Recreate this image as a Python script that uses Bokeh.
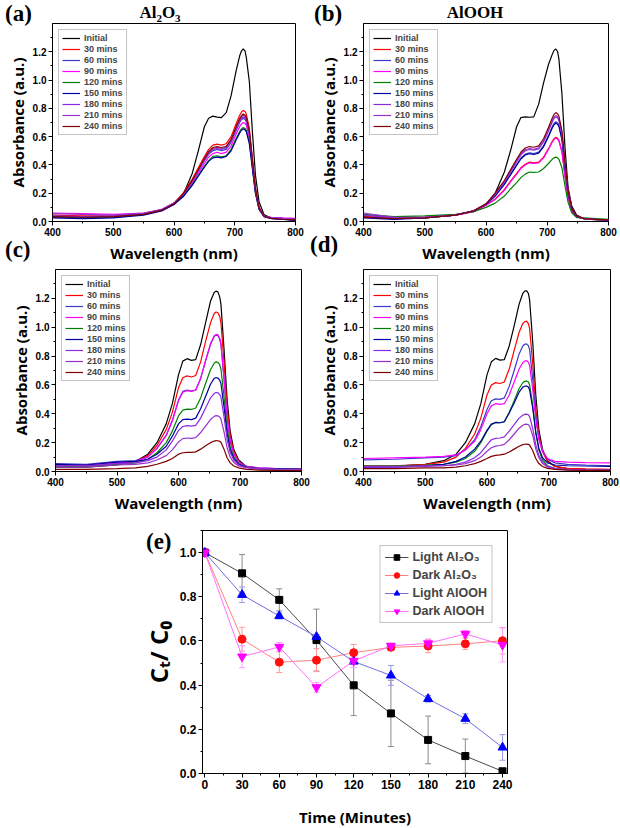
from bokeh.plotting import figure
from bokeh.layouts import column, row
from bokeh.models import (Legend, LegendItem, SingleIntervalTicker, PrintfTickFormatter,
                          Whisker, TeeHead, ColumnDataSource, Range1d, Div)
from bokeh.embed import file_html
from bokeh.resources import INLINE

# ---------------- data ----------------
SERIES_NAMES = ["Initial", "30 mins", "60 mins", "90 mins", "120 mins",
                "150 mins", "180 mins", "210 mins", "240 mins"]
SERIES_COLORS = ["#000000", "#ff0000", "#3a3ac8", "#ff00ff", "#008000",
                 "#0000a0", "#8a2be2", "#9932cc", "#800000"]

WL_AB = [400, 450, 500, 550, 580, 600, 615, 630, 640, 650, 657, 664, 671, 678, 686, 694,
         702, 708, 711, 714, 717, 719, 724, 729, 734, 740, 748, 760, 780, 800]

A_INIT = [0.030, 0.025, 0.030, 0.050, 0.080, 0.120, 0.190, 0.340, 0.500, 0.670, 0.730, 0.745, 0.738, 0.735, 0.770,
          0.890, 1.060, 1.170, 1.205, 1.220, 1.205, 1.160, 0.990, 0.640, 0.330, 0.140, 0.050, 0.025, 0.015, 0.010]
A_30 = [0.045, 0.040, 0.040, 0.055, 0.085, 0.130, 0.200, 0.300, 0.380, 0.460, 0.510, 0.540, 0.547, 0.540, 0.550,
        0.600, 0.690, 0.750, 0.773, 0.785, 0.778, 0.760, 0.660, 0.450, 0.240, 0.100, 0.040, 0.025, 0.020, 0.015]
A_60 = [0.030, 0.025, 0.030, 0.050, 0.080, 0.125, 0.190, 0.280, 0.355, 0.430, 0.475, 0.500, 0.510, 0.500, 0.510,
        0.560, 0.640, 0.700, 0.720, 0.730, 0.722, 0.705, 0.615, 0.420, 0.225, 0.095, 0.038, 0.022, 0.016, 0.012]
A_90 = [0.060, 0.055, 0.050, 0.060, 0.085, 0.130, 0.185, 0.270, 0.340, 0.410, 0.455, 0.480, 0.490, 0.480, 0.490,
        0.535, 0.615, 0.670, 0.690, 0.700, 0.693, 0.680, 0.590, 0.400, 0.215, 0.090, 0.037, 0.030, 0.025, 0.022]
A_120 = [0.035, 0.030, 0.035, 0.050, 0.080, 0.125, 0.180, 0.260, 0.325, 0.390, 0.430, 0.460, 0.465, 0.457, 0.465,
         0.510, 0.585, 0.635, 0.655, 0.665, 0.658, 0.645, 0.560, 0.380, 0.205, 0.088, 0.036, 0.022, 0.016, 0.012]
A_150 = [0.025, 0.020, 0.025, 0.045, 0.075, 0.120, 0.175, 0.255, 0.320, 0.385, 0.425, 0.450, 0.455, 0.450, 0.460,
         0.500, 0.575, 0.625, 0.645, 0.655, 0.648, 0.635, 0.550, 0.375, 0.200, 0.085, 0.035, 0.020, 0.014, 0.010]
A_180 = [0.040, 0.035, 0.040, 0.055, 0.085, 0.130, 0.190, 0.285, 0.360, 0.435, 0.480, 0.510, 0.515, 0.510, 0.520,
         0.565, 0.650, 0.707, 0.728, 0.740, 0.732, 0.717, 0.622, 0.425, 0.226, 0.095, 0.038, 0.024, 0.018, 0.014]
A_210 = [0.055, 0.050, 0.045, 0.060, 0.085, 0.130, 0.190, 0.287, 0.363, 0.440, 0.487, 0.516, 0.522, 0.516, 0.525,
         0.573, 0.660, 0.716, 0.738, 0.750, 0.742, 0.726, 0.630, 0.430, 0.230, 0.096, 0.038, 0.028, 0.022, 0.018]
A_240 = [0.035, 0.030, 0.035, 0.050, 0.080, 0.125, 0.195, 0.290, 0.368, 0.445, 0.494, 0.523, 0.530, 0.523, 0.532,
         0.580, 0.668, 0.726, 0.748, 0.760, 0.752, 0.736, 0.640, 0.436, 0.232, 0.097, 0.039, 0.022, 0.016, 0.012]

B_INIT = [0.035, 0.020, 0.025, 0.045, 0.075, 0.120, 0.200, 0.350, 0.500, 0.670, 0.735, 0.740, 0.737, 0.740, 0.830,
          0.980, 1.110, 1.180, 1.210, 1.220, 1.200, 1.150, 0.900, 0.520, 0.240, 0.110, 0.045, 0.020, 0.012, 0.010]
B_30 = [0.040, 0.025, 0.030, 0.045, 0.070, 0.115, 0.160, 0.225, 0.285, 0.340, 0.380, 0.405, 0.420, 0.415, 0.420,
        0.455, 0.515, 0.565, 0.585, 0.595, 0.588, 0.575, 0.495, 0.325, 0.170, 0.075, 0.032, 0.020, 0.015, 0.012]
B_60 = [0.030, 0.020, 0.025, 0.045, 0.075, 0.120, 0.183, 0.266, 0.334, 0.403, 0.449, 0.476, 0.485, 0.481, 0.490,
        0.536, 0.609, 0.669, 0.693, 0.705, 0.697, 0.682, 0.586, 0.385, 0.202, 0.087, 0.037, 0.020, 0.015, 0.012]
B_90 = [0.045, 0.030, 0.030, 0.045, 0.070, 0.115, 0.155, 0.220, 0.280, 0.335, 0.375, 0.400, 0.415, 0.410, 0.415,
        0.450, 0.510, 0.560, 0.580, 0.590, 0.583, 0.570, 0.490, 0.320, 0.168, 0.074, 0.032, 0.020, 0.015, 0.012]
B_120 = [0.050, 0.035, 0.040, 0.050, 0.070, 0.100, 0.130, 0.180, 0.230, 0.275, 0.310, 0.335, 0.350, 0.348, 0.350,
         0.375, 0.410, 0.440, 0.450, 0.455, 0.450, 0.440, 0.380, 0.250, 0.135, 0.062, 0.028, 0.025, 0.020, 0.015]
B_150 = [0.025, 0.015, 0.025, 0.045, 0.075, 0.120, 0.180, 0.262, 0.330, 0.397, 0.442, 0.470, 0.479, 0.474, 0.483,
         0.528, 0.600, 0.659, 0.684, 0.695, 0.687, 0.673, 0.578, 0.379, 0.199, 0.086, 0.036, 0.020, 0.015, 0.012]
B_180 = [0.045, 0.025, 0.030, 0.045, 0.075, 0.125, 0.192, 0.279, 0.351, 0.423, 0.471, 0.500, 0.509, 0.505, 0.514,
         0.562, 0.639, 0.702, 0.728, 0.740, 0.731, 0.716, 0.615, 0.404, 0.211, 0.091, 0.038, 0.020, 0.015, 0.012]
B_210 = [0.060, 0.030, 0.030, 0.045, 0.075, 0.125, 0.195, 0.283, 0.355, 0.430, 0.477, 0.507, 0.516, 0.511, 0.521,
         0.570, 0.648, 0.711, 0.738, 0.750, 0.741, 0.726, 0.623, 0.410, 0.214, 0.093, 0.039, 0.020, 0.015, 0.012]
B_240 = [0.030, 0.020, 0.025, 0.045, 0.075, 0.125, 0.200, 0.290, 0.365, 0.440, 0.490, 0.520, 0.530, 0.525, 0.535,
         0.585, 0.665, 0.730, 0.757, 0.770, 0.761, 0.745, 0.640, 0.420, 0.220, 0.095, 0.040, 0.020, 0.015, 0.012]

WL_CD = [400, 450, 500, 530, 550, 565, 580, 590, 600, 607, 614, 621, 628, 636, 644, 652,
         658, 661, 664, 667, 669, 674, 679, 684, 690, 698, 710, 730, 760, 800]

C_INIT = [0.030, 0.030, 0.045, 0.070, 0.120, 0.200, 0.330, 0.470, 0.670, 0.765, 0.782, 0.770, 0.775, 0.880, 1.030,
          1.180, 1.240, 1.250, 1.245, 1.210, 1.160, 0.850, 0.500, 0.280, 0.150, 0.080, 0.035, 0.020, 0.015, 0.012]
C_30 = [0.040, 0.040, 0.055, 0.070, 0.110, 0.180, 0.290, 0.410, 0.580, 0.650, 0.663, 0.655, 0.665, 0.760, 0.900,
        1.030, 1.095, 1.105, 1.100, 1.075, 1.030, 0.760, 0.440, 0.250, 0.135, 0.070, 0.035, 0.022, 0.018, 0.015]
C_60 = [0.055, 0.050, 0.070, 0.075, 0.100, 0.160, 0.250, 0.355, 0.495, 0.555, 0.565, 0.557, 0.565, 0.645, 0.765,
        0.880, 0.935, 0.945, 0.942, 0.918, 0.880, 0.645, 0.375, 0.210, 0.120, 0.065, 0.035, 0.025, 0.020, 0.018]
C_90 = [0.045, 0.045, 0.060, 0.070, 0.100, 0.160, 0.250, 0.350, 0.490, 0.550, 0.560, 0.555, 0.565, 0.645, 0.770,
        0.885, 0.940, 0.950, 0.947, 0.923, 0.885, 0.650, 0.380, 0.215, 0.120, 0.065, 0.035, 0.025, 0.020, 0.018]
C_120 = [0.035, 0.035, 0.050, 0.060, 0.085, 0.130, 0.200, 0.280, 0.385, 0.425, 0.432, 0.430, 0.440, 0.510, 0.610,
         0.705, 0.750, 0.760, 0.757, 0.740, 0.710, 0.520, 0.300, 0.170, 0.100, 0.055, 0.030, 0.020, 0.018, 0.015]
C_150 = [0.050, 0.045, 0.065, 0.070, 0.085, 0.120, 0.175, 0.245, 0.330, 0.360, 0.363, 0.360, 0.370, 0.435, 0.520,
         0.605, 0.645, 0.651, 0.648, 0.633, 0.610, 0.450, 0.265, 0.150, 0.090, 0.050, 0.030, 0.020, 0.018, 0.015]
C_180 = [0.040, 0.040, 0.055, 0.060, 0.075, 0.100, 0.150, 0.210, 0.285, 0.312, 0.318, 0.315, 0.320, 0.370, 0.440,
         0.510, 0.540, 0.548, 0.546, 0.533, 0.515, 0.380, 0.225, 0.130, 0.080, 0.045, 0.028, 0.020, 0.016, 0.014]
C_210 = [0.030, 0.030, 0.045, 0.050, 0.060, 0.080, 0.110, 0.150, 0.205, 0.228, 0.232, 0.230, 0.235, 0.270, 0.315,
         0.360, 0.382, 0.387, 0.386, 0.378, 0.365, 0.275, 0.165, 0.100, 0.062, 0.038, 0.025, 0.018, 0.015, 0.012]
C_240 = [0.015, 0.015, 0.020, 0.025, 0.035, 0.050, 0.070, 0.090, 0.120, 0.130, 0.133, 0.133, 0.136, 0.155, 0.178,
         0.200, 0.211, 0.214, 0.213, 0.209, 0.203, 0.155, 0.095, 0.060, 0.038, 0.025, 0.015, 0.010, 0.008, 0.007]

D_INIT = [0.030, 0.035, 0.050, 0.075, 0.120, 0.200, 0.330, 0.470, 0.670, 0.760, 0.784, 0.772, 0.775, 0.870, 1.010,
          1.160, 1.235, 1.250, 1.253, 1.235, 1.190, 0.900, 0.530, 0.290, 0.150, 0.075, 0.035, 0.020, 0.015, 0.012]
D_30 = [0.040, 0.040, 0.050, 0.065, 0.100, 0.160, 0.260, 0.370, 0.530, 0.600, 0.616, 0.610, 0.620, 0.710, 0.840,
        0.965, 1.025, 1.038, 1.042, 1.025, 0.990, 0.750, 0.440, 0.250, 0.135, 0.070, 0.035, 0.022, 0.018, 0.015]
D_60 = [0.080, 0.085, 0.095, 0.100, 0.110, 0.150, 0.220, 0.310, 0.430, 0.490, 0.503, 0.500, 0.510, 0.590, 0.700,
        0.815, 0.870, 0.882, 0.885, 0.872, 0.845, 0.640, 0.390, 0.230, 0.140, 0.085, 0.060, 0.050, 0.045, 0.040]
D_90 = [0.090, 0.095, 0.100, 0.105, 0.115, 0.150, 0.210, 0.290, 0.400, 0.455, 0.470, 0.465, 0.470, 0.530, 0.620,
        0.710, 0.755, 0.765, 0.768, 0.757, 0.735, 0.570, 0.360, 0.220, 0.140, 0.090, 0.070, 0.065, 0.062, 0.060]
D_120 = [0.040, 0.040, 0.045, 0.050, 0.065, 0.090, 0.140, 0.200, 0.280, 0.325, 0.340, 0.338, 0.345, 0.410, 0.490,
         0.575, 0.615, 0.625, 0.628, 0.620, 0.600, 0.460, 0.270, 0.150, 0.080, 0.040, 0.020, 0.012, 0.010, 0.010]
D_150 = [0.030, 0.030, 0.040, 0.050, 0.070, 0.100, 0.155, 0.210, 0.285, 0.328, 0.340, 0.338, 0.345, 0.405, 0.475,
         0.550, 0.585, 0.591, 0.593, 0.585, 0.565, 0.440, 0.270, 0.160, 0.095, 0.060, 0.045, 0.040, 0.038, 0.035]
D_180 = [0.030, 0.030, 0.035, 0.040, 0.050, 0.065, 0.095, 0.130, 0.185, 0.220, 0.230, 0.232, 0.240, 0.280, 0.325,
         0.370, 0.390, 0.396, 0.398, 0.393, 0.380, 0.300, 0.185, 0.110, 0.065, 0.035, 0.020, 0.015, 0.012, 0.012]
D_210 = [0.035, 0.035, 0.040, 0.040, 0.045, 0.055, 0.075, 0.100, 0.140, 0.165, 0.176, 0.180, 0.188, 0.220, 0.260,
         0.300, 0.320, 0.326, 0.328, 0.324, 0.315, 0.250, 0.155, 0.095, 0.055, 0.032, 0.020, 0.015, 0.012, 0.012]
D_240 = [0.020, 0.020, 0.025, 0.025, 0.030, 0.040, 0.055, 0.070, 0.090, 0.105, 0.112, 0.115, 0.120, 0.135, 0.155,
         0.175, 0.186, 0.189, 0.190, 0.188, 0.183, 0.145, 0.090, 0.055, 0.035, 0.022, 0.015, 0.010, 0.008, 0.008]

TIME = [0, 30, 60, 90, 120, 150, 180, 210, 240]
LIGHT_AL2O3 = [1.0, 0.906, 0.786, 0.604, 0.399, 0.272, 0.152, 0.079, 0.010]
LIGHT_AL2O3_ERR = [0.0, 0.085, 0.050, 0.140, 0.137, 0.150, 0.108, 0.077, 0.0]
DARK_AL2O3 = [1.0, 0.608, 0.504, 0.513, 0.547, 0.571, 0.577, 0.587, 0.601]
DARK_AL2O3_ERR = [0.0, 0.054, 0.047, 0.052, 0.037, 0.010, 0.030, 0.025, 0.060]
LIGHT_ALOOH = [1.0, 0.809, 0.713, 0.619, 0.507, 0.444, 0.338, 0.248, 0.118]
LIGHT_ALOOH_ERR = [0.0, 0.035, 0.013, 0.010, 0.010, 0.045, 0.015, 0.022, 0.058]
DARK_ALOOH = [1.0, 0.529, 0.573, 0.390, 0.510, 0.578, 0.589, 0.632, 0.582]
DARK_ALOOH_ERR = [0.0, 0.050, 0.020, 0.022, 0.030, 0.010, 0.020, 0.015, 0.077]

# ---------------- styling helpers ----------------
TICK_FONT = "Liberation Sans"
AXIS_FONT = "Open Sans"
SERIF = "Liberation Serif"


def style_axes(p, tick_size, label_size, x_standoff, y_standoff):
    for ax in (p.xaxis[0], p.yaxis[0]):
        ax.major_label_text_font = TICK_FONT
        ax.major_label_text_font_style = "bold"
        ax.major_label_text_font_size = tick_size
        ax.major_label_text_color = "black"
        ax.axis_label_text_font = AXIS_FONT
        ax.axis_label_text_font_style = "bold"
        ax.axis_label_text_font_size = label_size
        ax.axis_label_text_color = "black"
        ax.major_tick_in = 0
        ax.major_tick_out = 4
        ax.minor_tick_in = 0
        ax.minor_tick_out = 2
        ax.major_label_standoff = 2
        ax.axis_line_color = "black"
        ax.major_tick_line_color = "black"
        ax.minor_tick_line_color = "black"
    p.xaxis[0].axis_label_standoff = x_standoff
    p.yaxis[0].axis_label_standoff = y_standoff
    p.xgrid.visible = False
    p.ygrid.visible = False
    p.outline_line_color = "black"
    p.outline_line_width = 1
    p.background_fill_color = "white"
    p.border_fill_color = "white"


def spectra(wl, curves, left, top, fw, fh, right, bottom):
    p = figure(frame_width=fw, frame_height=fh, min_border_left=left, min_border_top=top,
               min_border_right=right, min_border_bottom=bottom,
               x_range=Range1d(400, 800), y_range=Range1d(0, 1.4),
               output_backend="svg", toolbar_location=None, title=None)
    for name, col, ys in zip(SERIES_NAMES, SERIES_COLORS, curves):
        p.line(wl, ys, line_color=col, line_width=1.2, legend_label=name)
    p.xaxis.ticker = SingleIntervalTicker(interval=100, num_minor_ticks=2)
    p.yaxis.ticker = SingleIntervalTicker(interval=0.2, num_minor_ticks=2)
    p.yaxis.formatter = PrintfTickFormatter(format="%.1f")
    p.xaxis.axis_label = "Wavelength (nm)"
    p.yaxis.axis_label = "Absorbance (a.u.)"
    style_axes(p, "10px", "15px", 4, 2)
    lg = p.legend[0]
    lg.location = "top_left"
    lg.margin = 6
    lg.padding = 3
    lg.spacing = 1
    lg.label_text_font = TICK_FONT
    lg.label_text_font_style = "bold"
    lg.label_text_font_size = "9px"
    lg.label_height = 10
    lg.glyph_height = 10
    lg.glyph_width = 18
    lg.label_standoff = 4
    lg.border_line_color = "#8c8c8c"
    lg.border_line_width = 1
    lg.background_fill_color = "white"
    lg.background_fill_alpha = 1.0
    return p


# row 1: 263 px tall, row 2: 250 px tall, row 3: 313 px tall (page is 620 x 828)
pa = spectra(WL_AB, [A_INIT, A_30, A_60, A_90, A_120, A_150, A_180, A_210, A_240],
             52, 23, 243, 198, 15, 42)
pb = spectra(WL_AB, [B_INIT, B_30, B_60, B_90, B_120, B_150, B_180, B_210, B_240],
             53, 23, 245, 198, 12, 42)
pc = spectra(WL_CD, [C_INIT, C_30, C_60, C_90, C_120, C_150, C_180, C_210, C_240],
             55, 4, 246, 202, 9, 44)
pd = spectra(WL_CD, [D_INIT, D_30, D_60, D_90, D_120, D_150, D_180, D_210, D_240],
             53, 4, 247, 202, 10, 44)

# ---------------- panel (e) ----------------
pe = figure(frame_width=305, frame_height=243, min_border_left=202, min_border_right=113,
            min_border_top=15, min_border_bottom=55,
            x_range=Range1d(-1.9, 244), y_range=Range1d(0, 1.1),
            output_backend="svg", toolbar_location=None, title=None)

e_series = [
    ("Light Al\u2082O\u2083", LIGHT_AL2O3, LIGHT_AL2O3_ERR, "#000000", "#4a4a4a", "#8a8a8a", "square", 7),
    ("Dark Al\u2082O\u2083", DARK_AL2O3, DARK_AL2O3_ERR, "#ff1010", "#ff8080", "#ff9a9a", "circle", 8),
    ("Light AlOOH", LIGHT_ALOOH, LIGHT_ALOOH_ERR, "#0000ff", "#7070e0", "#9a9ae8", "triangle", 9),
    ("Dark AlOOH", DARK_ALOOH, DARK_ALOOH_ERR, "#ff00ff", "#ff70ff", "#ff9aff", "inverted_triangle", 9),
]
items = []
for name, ys, err, mcol, lcol, ecol, marker, size in e_series:
    src = ColumnDataSource(dict(x=TIME, y=ys,
                                upper=[v + e for v, e in zip(ys, err)],
                                lower=[v - e for v, e in zip(ys, err)]))
    wh = Whisker(source=src, base="x", upper="upper", lower="lower",
                 line_color=ecol, line_width=1,
                 upper_head=TeeHead(size=6, line_color=ecol, line_width=1),
                 lower_head=TeeHead(size=6, line_color=ecol, line_width=1))
    pe.add_layout(wh)
    lr = pe.line("x", "y", source=src, line_color=lcol, line_width=1)
    sr = pe.scatter("x", "y", source=src, marker=marker, size=size,
                    fill_color=mcol, line_color=mcol)
    items.append(LegendItem(label=name, renderers=[lr, sr]))

leg = Legend(items=items, location="top_right", margin=15, padding=4, spacing=4,
             label_text_font=TICK_FONT, label_text_font_style="bold", label_text_font_size="12.5px",
             glyph_width=24, glyph_height=14, label_standoff=4,
             border_line_color="#8c8c8c", border_line_width=1,
             background_fill_color="white", background_fill_alpha=1.0)
pe.add_layout(leg)

pe.xaxis.ticker = SingleIntervalTicker(interval=30, num_minor_ticks=2)
pe.yaxis.ticker = SingleIntervalTicker(interval=0.2, num_minor_ticks=2)
pe.yaxis.formatter = PrintfTickFormatter(format="%.1f")
pe.xaxis.axis_label = "Time (Minutes)"
pe.yaxis.axis_label = "C\u209c/ C\u2080"
style_axes(pe, "12px", "15px", 15, 2)
pe.yaxis.axis_label_text_font_size = "24px"


# ---------------- panel labels (absolutely positioned text) ----------------
def tag(html, left, top, size, width=110, align="left"):
    return Div(text=html, width=width, height=30,
               styles={"position": "absolute", "left": f"{left}px", "top": f"{top}px",
                       "font-family": SERIF, "font-weight": "bold", "font-size": size,
                       "line-height": "1", "text-align": align, "white-space": "nowrap",
                       "color": "black", "z-index": "5"})


tags = [
    tag("(a)", 0, -3, "23px", 40),
    tag("Al<sub style='font-size:11px'>2</sub>O<sub style='font-size:11px'>3</sub>", 100, -1, "17px", 110, "center"),
    tag("(b)", 309, -3, "23px", 40),
    tag("AlOOH", 415, -1, "17px", 110, "center"),
    tag("(c)", 0, 233, "23px", 40),
    tag("(d)", 305, 228, "23px", 40),
    tag("(e)", 141, 525, "23px", 40),
]

layout = column(row(pa, pb), row(pc, pd), pe, *tags)

with open("out.html", "w") as f:
    f.write(file_html(layout, INLINE))
